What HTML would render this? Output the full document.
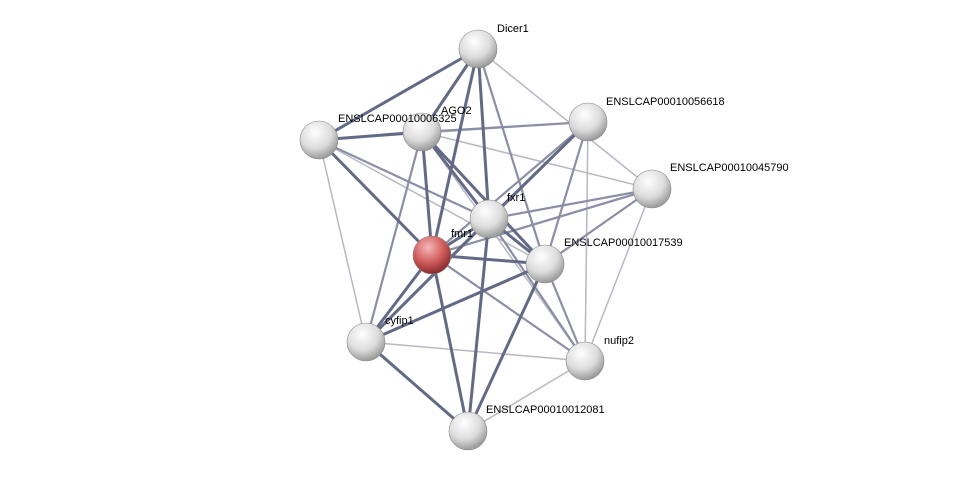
<!DOCTYPE html>
<html><head><meta charset="utf-8"><style>html,body{margin:0;padding:0;background:#fff;}svg{display:block}</style></head><body>
<svg width="975" height="477" viewBox="0 0 975 477" xmlns="http://www.w3.org/2000/svg">
<defs>
<radialGradient id="g" cx="40%" cy="30%" r="70%"><stop offset="0" stop-color="#ffffff"/><stop offset="0.6" stop-color="#dcdcdc"/><stop offset="1" stop-color="#9a9a9a"/></radialGradient>
<radialGradient id="r" cx="40%" cy="30%" r="70%"><stop offset="0" stop-color="#f4b8b8"/><stop offset="0.55" stop-color="#d46060"/><stop offset="1" stop-color="#8a2a2a"/></radialGradient>
</defs>
<g stroke-linecap="round">
<g stroke="#b8b8c4" stroke-width="1.5">
<line x1="478" y1="49" x2="652" y2="189"/>
<line x1="319" y1="140" x2="588" y2="122"/>
<line x1="319" y1="140" x2="366" y2="342"/>
<line x1="588" y1="122" x2="585" y2="361"/>
<line x1="652" y1="189" x2="585" y2="361"/>
<line x1="366" y1="342" x2="585" y2="361"/>
<line x1="585" y1="361" x2="468" y2="431"/>
<line x1="422" y1="132" x2="585" y2="361"/>
<line x1="319" y1="140" x2="545" y2="264"/>
<line x1="422" y1="132" x2="652" y2="189"/>
</g>
<g stroke="#8a8ea6" stroke-width="2.2">
<line x1="588" y1="122" x2="432" y2="255"/>
<line x1="588" y1="122" x2="545" y2="264"/>
<line x1="588" y1="122" x2="366" y2="342"/>
<line x1="652" y1="189" x2="489" y2="219"/>
<line x1="652" y1="189" x2="432" y2="255"/>
<line x1="652" y1="189" x2="545" y2="264"/>
<line x1="422" y1="132" x2="588" y2="122"/>
<line x1="422" y1="132" x2="366" y2="342"/>
<line x1="319" y1="140" x2="489" y2="219"/>
<line x1="489" y1="219" x2="585" y2="361"/>
<line x1="432" y1="255" x2="585" y2="361"/>
<line x1="545" y1="264" x2="585" y2="361"/>
<line x1="478" y1="49" x2="545" y2="264"/>
</g>
<g stroke="#626a86" stroke-width="3">
<line x1="478" y1="49" x2="319" y2="140"/>
<line x1="478" y1="49" x2="422" y2="132"/>
<line x1="478" y1="49" x2="432" y2="255"/>
<line x1="478" y1="49" x2="489" y2="219"/>
<line x1="319" y1="140" x2="422" y2="132"/>
<line x1="319" y1="140" x2="432" y2="255"/>
<line x1="422" y1="132" x2="432" y2="255"/>
<line x1="422" y1="132" x2="489" y2="219"/>
<line x1="422" y1="132" x2="545" y2="264"/>
<line x1="588" y1="122" x2="489" y2="219"/>
<line x1="489" y1="219" x2="432" y2="255"/>
<line x1="489" y1="219" x2="545" y2="264"/>
<line x1="489" y1="219" x2="366" y2="342"/>
<line x1="489" y1="219" x2="468" y2="431"/>
<line x1="432" y1="255" x2="545" y2="264"/>
<line x1="432" y1="255" x2="366" y2="342"/>
<line x1="432" y1="255" x2="468" y2="431"/>
<line x1="545" y1="264" x2="366" y2="342"/>
<line x1="545" y1="264" x2="468" y2="431"/>
<line x1="366" y1="342" x2="468" y2="431"/>
</g>
</g>
<g stroke="#888" stroke-width="0.6">
<circle cx="478" cy="49" r="19" fill="url(#g)"/>
<circle cx="319" cy="140" r="19" fill="url(#g)"/>
<circle cx="422" cy="132" r="19" fill="url(#g)"/>
<circle cx="588" cy="122" r="19" fill="url(#g)"/>
<circle cx="652" cy="189" r="19" fill="url(#g)"/>
<circle cx="489" cy="219" r="19" fill="url(#g)"/>
<circle cx="432" cy="255" r="19" fill="url(#r)"/>
<circle cx="545" cy="264" r="19" fill="url(#g)"/>
<circle cx="366" cy="342" r="19" fill="url(#g)"/>
<circle cx="585" cy="361" r="19" fill="url(#g)"/>
<circle cx="468" cy="431" r="19" fill="url(#g)"/>
</g>
<g font-family="Liberation Sans, sans-serif" font-size="11" fill="#000">
<text x="497" y="32">Dicer1</text>
<text x="441" y="114">AGO2</text>
<text x="338" y="122">ENSLCAP00010006325</text>
<text x="606" y="105">ENSLCAP00010056618</text>
<text x="670" y="171">ENSLCAP00010045790</text>
<text x="507" y="201">fxr1</text>
<text x="451" y="237">fmr1</text>
<text x="564" y="246">ENSLCAP00010017539</text>
<text x="385" y="324">cyfip1</text>
<text x="604" y="344">nufip2</text>
<text x="486" y="413">ENSLCAP00010012081</text>
</g>
</svg>
</body></html>
